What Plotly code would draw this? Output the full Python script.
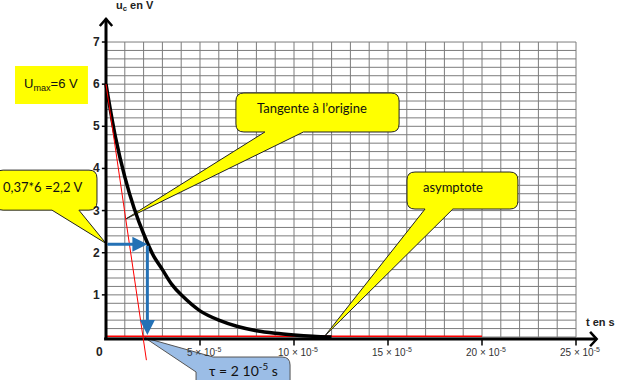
import plotly.graph_objects as go

# ---------------- data (time in units of 1e-5 s, voltage in V) ----------------
t_curve = [0, 0.5, 1, 1.5, 2, 2.5, 3, 3.5, 4, 5, 6, 7, 8, 9, 10, 11, 12]
u_curve = [6, 4.75, 3.8, 3.05, 2.45, 1.95, 1.6, 1.25, 1.0, 0.62, 0.4, 0.25, 0.15, 0.09, 0.05, 0.02, 0.0]

t_tangent = [0, 2.15]
u_tangent = [6, -0.55]

t_asymptote = [0, 20]
u_asymptote = [0.02, 0.02]

u_max = 6
u_tau = 2.2
t_tau = 2.2

y_ticks = [1, 2, 3, 4, 5, 6, 7]
x_ticks = [5, 10, 15, 20, 25]
x_tick_labels = ["5 × 10<sup>-5</sup>", "10 × 10<sup>-5</sup>", "15 × 10<sup>-5</sup>",
                 "20 × 10<sup>-5</sup>", "25 × 10<sup>-5</sup>"]
grid_t = list(range(0, 26))
grid_u = [i * 0.2 for i in range(0, 36)]

# ---------------- scale helpers ----------------
PX_X = 18.8   # pixels per unit of x
PX_Y = 42.14  # pixels per volt
XR = [-106 / PX_X, (618 - 106) / PX_X]
YR = [(337 - 380) / PX_Y, 337 / PX_Y]

fig = go.Figure()

shapes = []
GRID = "#7c7c7c"
for gx in grid_t:
    shapes.append(dict(type="line", xref="x", yref="y", x0=gx, x1=gx, y0=0, y1=7,
                       line=dict(color=GRID, width=1), layer="below"))
for gy in grid_u:
    shapes.append(dict(type="line", xref="x", yref="y", x0=0, x1=25, y0=gy, y1=gy,
                       line=dict(color=GRID, width=1), layer="below"))


def callout_bottom(x0, x1, y0, y1, b0, b1, tip, r=8):
    rx, ry = r / PX_X, r / PX_Y
    tx, ty = tip
    return (f"M {x0+rx},{y1} L {x1-rx},{y1} Q {x1},{y1} {x1},{y1-ry} "
            f"L {x1},{y0+ry} Q {x1},{y0} {x1-rx},{y0} "
            f"L {b1},{y0} L {tx},{ty} L {b0},{y0} "
            f"L {x0+rx},{y0} Q {x0},{y0} {x0},{y0+ry} "
            f"L {x0},{y1-ry} Q {x0},{y1} {x0+rx},{y1} Z")


YEL = "#ffff00"
# Tangente callout
shapes.append(dict(type="path", xref="x", yref="y", layer="below",
                   path=callout_bottom(6.91, 15.59, 4.865, 5.79, 8.45, 10.5, (1.05, 2.8)),
                   fillcolor=YEL, line=dict(color="#222", width=1)))
# asymptote callout
shapes.append(dict(type="path", xref="x", yref="y", layer="below",
                   path=callout_bottom(16.01, 21.91, 3.037, 3.915, 16.97, 18.45, (11.65, 0.03)),
                   fillcolor=YEL, line=dict(color="#222", width=1)))
# 0,37*6 callout
shapes.append(dict(type="path", xref="x", yref="y", layer="below",
                   path=callout_bottom(-5.9, -0.48, 3.01, 3.96, -2.87, -1.44, (0, 2.22)),
                   fillcolor=YEL, line=dict(color="#222", width=1)))
# Umax box
shapes.append(dict(type="rect", xref="x", yref="y", layer="below",
                   x0=-4.84, x1=-0.96, y0=5.53, y1=6.43,
                   fillcolor=YEL, line=dict(width=0)))
# tau callout (pointer cuts the top-left corner)
rx, ry = 8 / PX_X, 8 / PX_Y
tx0, tx1, ty0, ty1 = 4.79, 9.79, -1.45, -0.475
tau_path = (f"M 5.7,{ty1} L {tx1-rx},{ty1} Q {tx1},{ty1} {tx1},{ty1-ry} "
            f"L {tx1},{ty0} L {tx0},{ty0} L {tx0},-0.83 L 2.07,-0.02 L 5.7,{ty1} Z")
shapes.append(dict(type="path", xref="x", yref="y", layer="below", path=tau_path,
                   fillcolor="#9bbde6", line=dict(color="#555", width=1)))

# ---------------- traces ----------------
# asymptote
fig.add_trace(go.Scatter(x=t_asymptote, y=u_asymptote, mode="lines",
                         line=dict(color="#ff0000", width=1.5), hoverinfo="skip"))
# axes lines
fig.add_trace(go.Scatter(x=[0, 0], y=[-0.05, 7.55], mode="lines",
                         line=dict(color="black", width=3), hoverinfo="skip"))
fig.add_trace(go.Scatter(x=[-0.1, 26.1], y=[-0.05, -0.05], mode="lines",
                         line=dict(color="black", width=3), hoverinfo="skip"))
# chevron arrow heads
fig.add_trace(go.Scatter(x=[-0.33, 0, 0.33], y=[7.38, 7.55, 7.38], mode="lines",
                         line=dict(color="black", width=2.5), hoverinfo="skip"))
fig.add_trace(go.Scatter(x=[25.75, 26.1, 25.75], y=[0.12, -0.05, -0.22], mode="lines",
                         line=dict(color="black", width=2.5), hoverinfo="skip"))
# tick marks
tx, ty = [], []
for v in y_ticks:
    tx += [-0.22, 0, None]
    ty += [v, v, None]
for v in x_ticks:
    tx += [v, v, None]
    ty += [-0.05, -0.2, None]
fig.add_trace(go.Scatter(x=tx, y=ty, mode="lines", line=dict(color="black", width=1.5),
                         hoverinfo="skip"))
# curve
fig.add_trace(go.Scatter(x=t_curve, y=u_curve, mode="lines", line_shape="spline",
                         line=dict(color="black", width=3.5), hoverinfo="skip"))
# tangent
fig.add_trace(go.Scatter(x=t_tangent, y=u_tangent, mode="lines",
                         line=dict(color="#ff0000", width=1), hoverinfo="skip"))

# ---------------- annotations ----------------
ann = []
BLUE = "#2471b5"
ann.append(dict(x=t_tau, y=u_tau, ax=0, ay=u_tau, xref="x", yref="y", axref="x", ayref="y",
                showarrow=True, arrowhead=2, arrowsize=1, arrowwidth=3, arrowcolor=BLUE, text=""))
ann.append(dict(x=t_tau, y=0.05, ax=t_tau, ay=u_tau, xref="x", yref="y", axref="x", ayref="y",
                showarrow=True, arrowhead=2, arrowsize=1, arrowwidth=3, arrowcolor=BLUE, text=""))

TICKF = dict(family="Liberation Sans, Arial", size=12, color="#222")
for v in y_ticks:
    ann.append(dict(x=-0.5, y=v, xref="x", yref="y", text=f"<b>{v}</b>", showarrow=False,
                    xanchor="center", yanchor="middle", font=TICKF))
ann.append(dict(x=-0.32, y=-0.36, xref="x", yref="y", text="<b>0</b>", showarrow=False,
                xanchor="center", yanchor="middle", font=TICKF))
for v, lab in zip(x_ticks, x_tick_labels):
    ann.append(dict(x=v + 0.2, y=-0.36, xref="x", yref="y", text=lab, showarrow=False,
                    xanchor="center", yanchor="middle",
                    font=dict(family="Liberation Sans, Arial", size=10, color="#333")))
ann.append(dict(x=0.45, y=7.85, xref="x", yref="y", text="<b>u<sub>c</sub> en V</b>",
                showarrow=False, xanchor="left", yanchor="middle",
                font=dict(family="Liberation Sans, Arial", size=11, color="#222")))
ann.append(dict(x=25.4, y=0.35, xref="x", yref="y", text="<b>t en s</b>",
                showarrow=False, xanchor="left", yanchor="middle",
                font=dict(family="Liberation Sans, Arial", size=11, color="#222")))

CF = dict(family="Lato, Calibri, sans-serif", size=13, color="#111")
ann.append(dict(x=-2.93, y=6.0, xref="x", yref="y", text=f"U<sub>max</sub>={u_max} V",
                showarrow=False, xanchor="center", yanchor="middle",
                font=dict(family="Liberation Sans, Arial", size=13, color="#111")))
ann.append(dict(x=-5.6, y=3.56, xref="x", yref="y", text="0,37*6 =2,2 V",
                showarrow=False, xanchor="left", yanchor="middle", font=CF))
ann.append(dict(x=10.96, y=5.43, xref="x", yref="y", text="Tangente à l’origine",
                showarrow=False, xanchor="center", yanchor="middle", font=CF))
ann.append(dict(x=18.46, y=3.56, xref="x", yref="y", text="asymptote",
                showarrow=False, xanchor="center", yanchor="middle", font=CF))
ann.append(dict(x=7.29, y=-0.76, xref="x", yref="y", text="τ = 2 10<sup>-5</sup> s",
                showarrow=False, xanchor="center", yanchor="middle",
                font=dict(family="Lato, Calibri, sans-serif", size=14, color="#111")))

fig.update_layout(
    width=618, height=380, autosize=False,
    margin=dict(l=0, r=0, t=0, b=0),
    paper_bgcolor="white", plot_bgcolor="white",
    showlegend=False, hovermode=False,
    xaxis=dict(range=XR, visible=False, fixedrange=True),
    yaxis=dict(range=YR, visible=False, fixedrange=True),
    shapes=shapes, annotations=ann,
)

fig.write_html("out.html", config={"displayModeBar": False, "staticPlot": True})
